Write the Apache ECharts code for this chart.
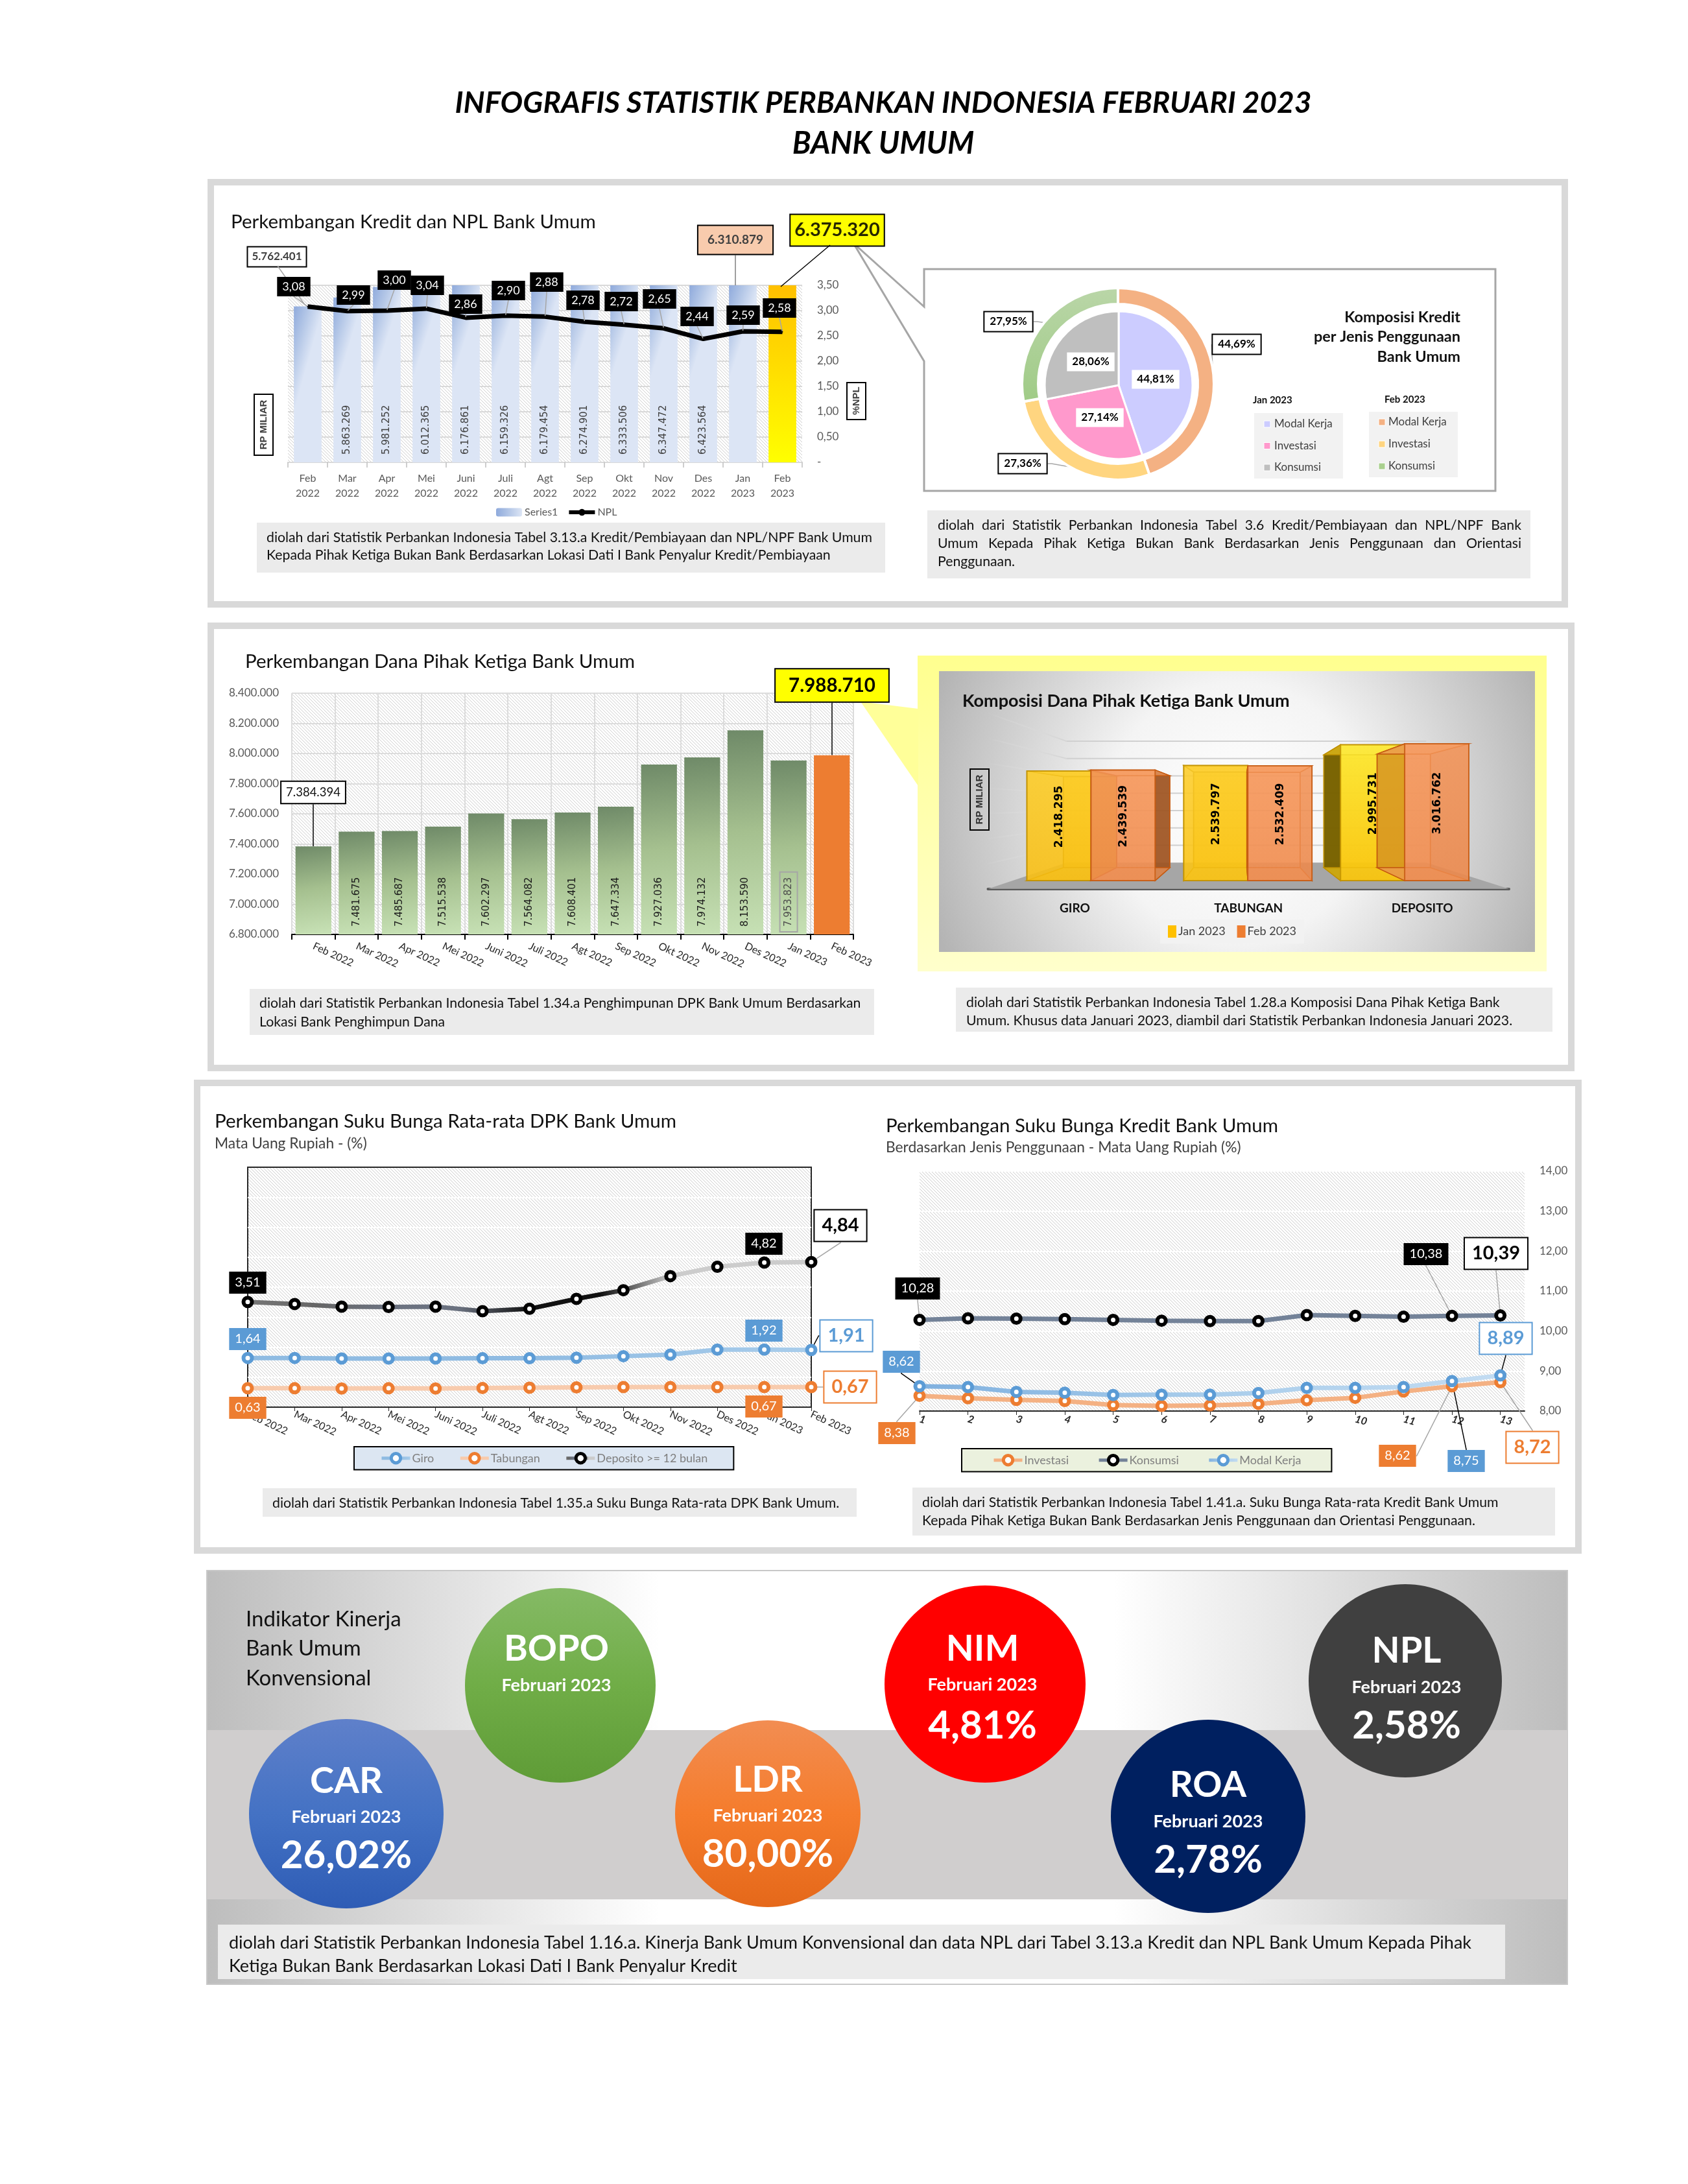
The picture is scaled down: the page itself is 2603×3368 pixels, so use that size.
<!DOCTYPE html>
<html>
<head>
<meta charset="utf-8">
<title>Infografis Statistik Perbankan Indonesia Februari 2023</title>
<script src="https://cdn.jsdelivr.net/npm/echarts@6/dist/echarts.min.js"></script>
<style>
	html, body { margin:0; padding:0; background:#fff; }
	#main { width:2603px; height:3368px; }
</style>
</head>
<body>
<div id="main"></div>
<script>
// data
var bulan = ['Feb 2022','Mar 2022','Apr 2022','Mei 2022','Juni 2022','Juli 2022','Agt 2022','Sep 2022','Okt 2022','Nov 2022','Des 2022','Jan 2023','Feb 2023'];
var kredit = [5762401,5863269,5981252,6012365,6176861,6159326,6179454,6274901,6333506,6347472,6423564,6310879,6375320];
var npl = [3.08,2.99,3.00,3.04,2.86,2.90,2.88,2.78,2.72,2.65,2.44,2.59,2.58];
var jenisKredit = ['Modal Kerja','Investasi','Konsumsi'];
var komposisiJan = [44.81,27.14,28.06];
var komposisiFeb = [44.69,27.36,27.95];
var dpk = [7384394,7481675,7485687,7515538,7602297,7564082,7608401,7647334,7927036,7974132,8153590,7953823,7988710];
var jenisDana = ['GIRO','TABUNGAN','DEPOSITO'];
var danaJan = [2418295,2539797,2995731];
var danaFeb = [2439539,2532409,3016762];
var giro = [1.64,1.64,1.62,1.62,1.62,1.63,1.63,1.65,1.70,1.75,1.92,1.92,1.91];
var tabungan = [0.63,0.63,0.62,0.63,0.62,0.64,0.65,0.66,0.67,0.67,0.67,0.67,0.67];
var deposito = [3.51,3.44,3.35,3.34,3.35,3.20,3.28,3.61,3.90,4.37,4.68,4.82,4.84];
var urutan = [1,2,3,4,5,6,7,8,9,10,11,12,13];
var investasi = [8.38,8.32,8.28,8.25,8.15,8.13,8.14,8.18,8.27,8.33,8.49,8.62,8.72];
var konsumsi = [10.28,10.32,10.31,10.30,10.28,10.26,10.25,10.25,10.40,10.38,10.36,10.38,10.39];
var modalKerja = [8.62,8.60,8.48,8.46,8.40,8.41,8.41,8.45,8.58,8.58,8.60,8.75,8.89];
var kpiNama = ['BOPO','CAR','LDR','NIM','ROA','NPL'];
var kpiNilai = ['','26,02%','80,00%','4,81%','2,78%','2,58%'];

// where the callouts sit on the page
var nplLabelPos = [[453,442],[545,455],[608,432],[659,440],[718,469],[784,448],[843,435],[899,463],[958,465],[1017,461],[1075,488],[1146,486],[1202,475]];
var kreditLabelPos = {0:[427,396],11:[1134,370],12:[1291,355]};
var dpkLabelPos = {0:[483,1222],12:[1283,1057]};
var depositoLabelPos = {0:[382,1978],11:[1178,1918],12:[1296,1890]};
var giroLabelPos = {0:[382,2065],11:[1178,2052],12:[1305,2060]};
var tabunganLabelPos = {0:[382,2171],11:[1178,2169],12:[1311,2139]};
var konsumsiLabelPos = {0:[1415,1987],11:[2199,1934],12:[2307,1933]};
var modalLabelPos = {0:[1390,2100],11:[2261,2253],12:[2322,2064]};
var investasiLabelPos = {0:[1383,2210],11:[2155,2245],12:[2363,2232]};
var pieJanLabelPos = [[1782,585],[1696,644],[1682,558]];
var pieFebLabelPos = [[1907,531],[1577,715],[1555,496]];

var LATO = 'Lato';
var DEJAVU = '"DejaVu Sans"';
var JUDUL = 29.5, CATATAN = 21.25, SUB = 22.8;

function ribuan(v){
	return String(v).replace(/\B(?=(\d{3})+(?!\d))/g, '.');
}
function koma(v){
	return v.toFixed(2).replace('.', ',');
}
function hatch(warna){
	var c = document.createElement('canvas');
	c.width = 5; c.height = 5;
	var g = c.getContext('2d');
	g.fillStyle = '#fff';
	g.fillRect(0, 0, 5, 5);
	g.strokeStyle = warna;
	g.lineWidth = 1;
	g.beginPath();
	g.moveTo(-1, -1); g.lineTo(6, 6);
	g.moveTo(-1, 4); g.lineTo(1, 6);
	g.moveTo(4, -1); g.lineTo(6, 1);
	g.stroke();
	return {image:c, repeat:'repeat'};
}
function grad(x2, y2, stops){
	var list = [];
	for(var i=0;i<stops.length;i++){
		list.push({offset:i/(stops.length-1), color:stops[i]});
	}
	return {type:'linear', x:0, y:0, x2:x2, y2:y2, colorStops:list};
}

// ---- page furniture ----
var els = [];
function box(x, y, w, h, fill, stroke, lw, z){
	els.push({type:'rect', z:z===undefined?-5:z, shape:{x:x, y:y, width:w, height:h},
		style:{fill:fill, stroke:stroke||null, lineWidth:lw||0}, silent:true});
}
function txt(x, y, s, size, opt){
	opt = opt || {};
	els.push({type:'text', z:opt.z===undefined?5:opt.z, x:x, y:y, rotation:opt.rot||0, silent:true,
		style:{text:s, fontFamily:opt.family||LATO, fontSize:size, fontWeight:opt.weight||'normal',
			fontStyle:opt.italic?'italic':'normal', fill:opt.color||'#000',
			align:opt.align||'left', verticalAlign:'middle'}});
}
function poly(points, fill, stroke, lw, z){
	els.push({type:'polygon', z:z===undefined?-4:z, shape:{points:points},
		style:{fill:fill, stroke:stroke||null, lineWidth:lw||0}, silent:true});
}
function garis(x1, y1, x2, y2, warna, lw, z){
	els.push({type:'line', z:z, shape:{x1:x1,y1:y1,x2:x2,y2:y2},
		style:{stroke:warna, lineWidth:lw}, silent:true});
}
// justified line, word by word
function rata(x1, x2, y, s, size){
	var ctx = document.createElement('canvas').getContext('2d');
	ctx.font = size+'px '+LATO;
	var kata = s.split(' ');
	var total = 0;
	for(var i=0;i<kata.length;i++){ total += ctx.measureText(kata[i]).width; }
	var gap = (x2-x1-total)/(kata.length-1);
	var x = x1;
	for(var j=0;j<kata.length;j++){
		txt(x, y, kata[j], size, {color:'#111'});
		x += ctx.measureText(kata[j]).width+gap;
	}
}

txt(1362, 159, 'INFOGRAFIS STATISTIK PERBANKAN INDONESIA FEBRUARI 2023', 46, {weight:'bold', italic:true, align:'center'});
txt(1362, 222, 'BANK UMUM', 47, {weight:'bold', italic:true, align:'center'});

// frames
var FRAME = '#d9d9d9';
box(325, 281, 2088, 651, '#fff', FRAME, 10, -10);
box(325, 965, 2098, 682, '#fff', FRAME, 10, -10);
box(304, 1670, 2130, 721, '#fff', FRAME, 10, -10);

// panel 1
txt(356, 342, 'Perkembangan Kredit dan NPL Bank Umum', JUDUL, {color:'#111'});
box(392, 608, 29, 94, '#fff', '#000', 2, 4);
txt(407, 655, 'RP MILIAR', 15, {family:'"Liberation Sans"', weight:'bold', color:'#404040', align:'center', rot:Math.PI/2});
box(1306, 590, 29, 57, '#fff', '#000', 2, 4);
txt(1321, 618, '%NPL', 15, {family:'"Liberation Sans"', weight:'bold', color:'#404040', align:'center', rot:Math.PI/2});
box(396, 806, 969, 77, '#ebebeb');
txt(411, 829, 'diolah dari Statistik Perbankan Indonesia Tabel 3.13.a Kredit/Pembiayaan dan NPL/NPF Bank Umum', CATATAN, {color:'#111'});
txt(411, 856, 'Kepada Pihak Ketiga Bukan Bank Berdasarkan Lokasi Dati I Bank Penyalur Kredit/Pembiayaan', CATATAN, {color:'#111'});
// leaders of the two callouts whose line does not end at the bar edge
garis(428, 410, 470, 470, '#a6a6a6', 1.5, 4);
garis(1280, 378, 1204, 442, '#000', 1.5, 4);

// callout frame for the pies
poly([[1425,473],[1425,415],[2306,415],[2306,757],[1425,757],[1425,557],[1316,375]], '#fff', '#a6a6a6', 3, -4);
txt(2252, 489, 'Komposisi Kredit', 23.5, {weight:'bold', align:'right', color:'#111'});
txt(2252, 519, 'per Jenis Penggunaan', 23.5, {weight:'bold', align:'right', color:'#111'});
txt(2252, 550, 'Bank Umum', 23.5, {weight:'bold', align:'right', color:'#111'});
txt(1932, 617, 'Jan 2023', 15, {weight:'bold', color:'#111'});
txt(2135, 616, 'Feb 2023', 15, {weight:'bold', color:'#111'});
box(1934, 637, 137, 101, '#f2f2f2', null, 0, -3);
box(2111, 635, 137, 101, '#f2f2f2', null, 0, -3);
var warnaJan = ['#ccccff','#ff99cc','#bfbfbf'];
var warnaFeb = ['#f4b183','#ffd580','#a9d08e'];
for(var i=0;i<3;i++){
	box(1949, 649+33.5*i, 10, 10, warnaJan[i], '#fff', 1, 3);
	txt(1965, 654+33.5*i, jenisKredit[i], 17, {color:'#404040'});
	box(2126, 646+34*i, 10, 10, warnaFeb[i], '#fff', 1, 3);
	txt(2141, 651+34*i, jenisKredit[i], 17, {color:'#404040'});
}
box(1430, 787, 930, 105, '#ebebeb');
rata(1446, 2346, 810, 'diolah dari Statistik Perbankan Indonesia Tabel 3.6 Kredit/Pembiayaan dan NPL/NPF Bank', CATATAN);
rata(1446, 2346, 838, 'Umum Kepada Pihak Ketiga Bukan Bank Berdasarkan Jenis Penggunaan dan Orientasi', CATATAN);
txt(1446, 866, 'Penggunaan.', CATATAN, {color:'#111'});

// panel 2
txt(378, 1020, 'Perkembangan Dana Pihak Ketiga Bank Umum', JUDUL, {color:'#111'});
box(385, 1525, 963, 71, '#ebebeb');
txt(400, 1547, 'diolah dari Statistik Perbankan Indonesia Tabel 1.34.a Penghimpunan DPK Bank Umum Berdasarkan', CATATAN, {color:'#111'});
txt(400, 1576, 'Lokasi Bank Penghimpun Dana', CATATAN, {color:'#111'});
box(1415, 1011, 970, 487, grad(0, 1, ['#ffff8f','#ffffcc']));
poly([[1327,1082],[1416,1093],[1416,1212]], '#ffff99');
box(1448, 1035, 919, 433, {type:'radial', x:0.5, y:0.5, r:1.15, colorStops:[{offset:0,color:'#ffffff'},{offset:0.4,color:'#f4f4f4'},{offset:1,color:'#b4b4b4'}]});
txt(1484, 1081, 'Komposisi Dana Pihak Ketiga Bank Umum', 27, {weight:'bold', color:'#111'});
box(1496, 1186, 29, 94, null, '#000', 2, 4);
txt(1511, 1233, 'RP MILIAR', 15, {family:'"Liberation Sans"', weight:'bold', color:'#333', align:'center', rot:Math.PI/2});
box(1474, 1523, 920, 68, '#ebebeb');
txt(1490, 1546, 'diolah dari Statistik Perbankan Indonesia Tabel 1.28.a Komposisi Dana Pihak Ketiga Bank', CATATAN, {color:'#111'});
txt(1490, 1574, 'Umum. Khusus data Januari 2023, diambil dari Statistik Perbankan Indonesia Januari 2023.', CATATAN, {color:'#111'});

// panel 3
txt(331, 1729, 'Perkembangan Suku Bunga Rata-rata DPK Bank Umum', JUDUL, {color:'#111'});
txt(331, 1764, 'Mata Uang Rupiah - (%)', SUB, {color:'#404040'});
box(405, 2295, 916, 44, '#ebebeb');
txt(420, 2318, 'diolah dari Statistik Perbankan Indonesia Tabel 1.35.a Suku Bunga Rata-rata DPK Bank Umum.', CATATAN, {color:'#111'});
txt(1366, 1736, 'Perkembangan Suku Bunga Kredit Bank Umum', JUDUL, {color:'#111'});
txt(1366, 1770, 'Berdasarkan Jenis Penggunaan - Mata Uang Rupiah (%)', SUB, {color:'#404040'});
box(1407, 2294, 991, 74, '#ebebeb');
txt(1422, 2317, 'diolah dari Statistik Perbankan Indonesia Tabel 1.41.a. Suku Bunga Rata-rata Kredit Bank Umum', CATATAN, {color:'#111'});
txt(1422, 2345, 'Kepada Pihak Ketiga Bukan Bank Berdasarkan Jenis Penggunaan dan Orientasi Penggunaan.', CATATAN, {color:'#111'});

// panel 4
box(319, 2422, 2098, 638, grad(1, 0, ['#bdbdbd','#ffffff','#ffffff','#bdbdbd']), '#c8c8c8', 2, -10);
box(319, 2668, 2098, 261, '#d0cece', null, 0, -9);
txt(379, 2497, 'Indikator Kinerja', 33, {color:'#111'});
txt(379, 2542, 'Bank Umum', 33, {color:'#111'});
txt(379, 2588, 'Konvensional', 33, {color:'#111'});
var kpiPos = [[864,2599,147,150],[534,2797,150,146],[1184,2797,143,144],[1519,2597,155,152],[1863,2801,150,149],[2167,2592,149,149]];
var kpiFill = [grad(0,1,['#85ba65','#70ad47','#5f9c37']),grad(0,1,['#5f80ca','#4472c4','#2e5cb5']),grad(0,1,['#f28d52','#f57c2c','#e5681a']),'#ff0000','#002060','#404040'];
// text offsets inside each bubble: x, name, month, value
var kpiTeks = [[-6,-56,0,0],[0,-50,5,65],[0,-52,3,63],[-4,-54,1,65],[0,-48,8,68],[2,-46,10,70]];
for(var k=0;k<kpiNama.length;k++){
	var p = kpiPos[k], t = kpiTeks[k];
	els.push({type:'ellipse', z:-2, shape:{cx:p[0], cy:p[1], rx:p[2], ry:p[3]}, style:{fill:kpiFill[k]}, silent:true});
	txt(p[0]+t[0], p[1]+t[1], kpiNama[k], 56, {weight:'bold', color:'#fff', align:'center'});
	txt(p[0]+t[0], p[1]+t[2], 'Februari 2023', 27, {weight:'bold', color:'#fff', align:'center'});
	if(kpiNilai[k]){
		txt(p[0]+t[0], p[1]+t[3], kpiNilai[k], 60, {weight:'bold', color:'#fff', align:'center'});
	}
}
box(336, 2968, 1985, 84, '#ebebeb', null, 0, -1);
txt(353, 2996, 'diolah dari Statistik Perbankan Indonesia Tabel 1.16.a. Kinerja Bank Umum Konvensional dan data NPL dari Tabel 3.13.a Kredit dan NPL Bank Umum Kepada Pihak', 27, {color:'#111'});
txt(353, 3032, 'Ketiga Bukan Bank Berdasarkan Lokasi Dati I Bank Penyalur Kredit', 27, {color:'#111'});

// ---- labels ----
function posLayout(table){
	return function(params){
		var p = table[params.dataIndex];
		if(!p){ return {}; }
		return {x:p[0], y:p[1], align:'center', verticalAlign:'middle'};
	};
}
function kotak(warnaBg, warnaTeks, size, bold, tepi, pad){
	return {show:true, backgroundColor:warnaBg, color:warnaTeks, fontSize:size, fontFamily:LATO,
		fontWeight:bold?'bold':'normal', padding:pad, lineHeight:size,
		borderColor:tepi||'transparent', borderWidth:tepi?2:0, rotate:0};
}
function kecil(warna){
	return kotak(warna, '#fff', 20, false, null, [7,9]);
}
function besar(warnaTepi, warnaTeks){
	return kotak('#fff', warnaTeks, 29, true, warnaTepi, [9,11]);
}
function garisLabel(warna){
	return {show:true, length:1, length2:1, lineStyle:{color:warna, width:1.5}};
}

function titikDenganLabel(vals, labelMap, lineMap, xs){
	var out = [];
	for(var i=0;i<vals.length;i++){
		var it = {value: xs ? [xs[i], vals[i]] : vals[i]};
		if(labelMap[i]){
			it.label = labelMap[i];
			if(lineMap && lineMap[i]){ it.labelLine = garisLabel(lineMap[i]); }
		}
		out.push(it);
	}
	return out;
}
function petaLabel(warna){
	return {0:kecil(warna), 11:kecil(warna), 12:besar(warna, warna)};
}
function lineSeries(nama, vals, warnaGaris, warnaTepi, lx, ly, petaL, petaG, posTabel, xs){
	return {
		name:nama, type:'line', xAxisIndex:lx, yAxisIndex:ly,
		data:titikDenganLabel(vals, petaL, petaG, xs),
		symbol:'circle', symbolSize:13, showAllSymbol:true, z:5,
		lineStyle:{color:warnaGaris, width:7},
		itemStyle:{color:'#fff', borderColor:warnaTepi, borderWidth:6},
		label:{show:false, formatter:function(p){ return koma(vals[p.dataIndex]); }},
		labelLine:{show:false, lineStyle:{color:'#a6a6a6', width:1.5}},
		labelLayout:posLayout(posTabel)
	};
}

// ---- kredit bars ----
var kreditData = [];
for(var a=0;a<kredit.length;a++){
	var item = {value:kredit[a]};
	if(a==0){
		item.label = kotak('#fff','#404040',17,true,'#000',[6,6]);
	}else if(a==11){
		item.label = kotak('#f8cbad','#404040',19,true,'#000',[12,14]);
		item.labelLine = garisLabel('#7f7f7f');
	}else if(a==12){
		item.label = kotak('#ffff00','#262600',29,true,'#000',[9,6]);
		item.itemStyle = {color:grad(0,1,['#ffc000','#ffff00'])};
	}
	kreditData.push(item);
}

// ---- dpk bars ----
var dpkData = [];
for(var d=0;d<dpk.length;d++){
	var it2 = {value:dpk[d]};
	if(d==0){
		it2.label = kotak('#fff','#111',18.5,false,'#000',[7,7]);
		it2.labelLine = garisLabel('#000');
	}else if(d==12){
		it2.label = kotak('#ffff00','#000',29.5,true,'#000',[10,20]);
		it2.labelLine = garisLabel('#000');
		it2.itemStyle = {color:'#ed7d31'};
	}else if(d==11){
		it2.label = {color:'#4d4d4d', borderColor:'#a6a6a6', borderWidth:2, padding:[6,8,6,8], distance:4};
	}
	dpkData.push(it2);
}

// ---- 3D bars of dana: plane coords projected to the vanishing point ----
var VX = 1915, VY = 1240, S_FLOOR = 0.69, S_BACK = 0.75, S_FRONT = 0.903, BAR_W = 109.5;
function proj(x, y, s){
	return [VX+s*(x-VX), VY+s*(y-VY)];
}
var janAtas = ['#ffcf2a','#ffd030','#fff03a'];
var janBawah = ['#fabf14','#fbc315','#fbc50c'];
function bar3d(off, warna){
	return function(params, api){
		var cat = api.value(0), val = api.value(1);
		var base = api.coord([cat, 0]);
		var top = api.coord([cat, val]);
		var x1 = base[0]+off, x2 = x1+BAR_W, y0 = base[1], y1 = top[1];
		function face(pts, fill, stroke){
			return {type:'polygon', shape:{points:pts}, style:{fill:fill, stroke:stroke, lineWidth:1.5}};
		}
		var fa = proj(x1,y1,S_FRONT), fb = proj(x2,y1,S_FRONT), fc = proj(x2,y0,S_FRONT), fd = proj(x1,y0,S_FRONT);
		var ba = proj(x1,y1,S_BACK), bb = proj(x2,y1,S_BACK), bc = proj(x2,y0,S_BACK), bd = proj(x1,y0,S_BACK);
		var atas = warna.top ? warna.top[cat] : warna.front;
		var bawah = warna.bottom ? warna.bottom[cat] : warna.front2;
		var cx = (fa[0]+fb[0])/2+1, cy = (fa[1]+fd[1])/2-14;
		// outer faces are dark, faces seen through the bar only tint it
		var sisiKiri = (off<0 && x1>VX) ? warna.side : (x1>VX ? warna.tintOut : warna.tint);
		var sisiKanan = (off>=0 && x2<VX) ? warna.side : warna.tint;
		return {type:'group', children:[
			face([ba,bb,bc,bd], warna.back, warna.line),
			face([fa,ba,bd,fd], sisiKiri, warna.line),
			face([fb,bb,bc,fc], sisiKanan, warna.line),
			face([fd,fc,bc,bd], warna.floor, warna.line),
			face([fa,fb,bb,ba], warna.floor, warna.line),
			{type:'polygon', shape:{points:[fa,fb,fc,fd]}, style:{fill:grad(0,1,[atas,bawah]), stroke:warna.line, lineWidth:2, opacity:0.8}},
			{type:'text', x:cx, y:cy, rotation:Math.PI/2,
				style:{text:ribuan(val), fontFamily:DEJAVU, fontSize:17, fontWeight:'bold', fill:'#000', align:'center', verticalAlign:'middle'}}
		]};
	};
}
function dinding3d(params, api){
	var cs = params.coordSys;
	var v = api.value(0);
	var y = api.coord([0, v])[1];
	var left = cs.x, right = cs.x+cs.width;
	var a = proj(left,y,S_FLOOR), b = proj(right,y,S_FLOOR), c = proj(left,y,1);
	var kids = [
		{type:'line', shape:{x1:a[0],y1:a[1],x2:b[0],y2:b[1]}, style:{stroke:'#d0d0d0', lineWidth:2}},
		{type:'line', shape:{x1:a[0],y1:a[1],x2:c[0],y2:c[1]}, style:{stroke:grad(1,1,['rgba(225,225,225,0)','#d4d4d4']), lineWidth:2}}
	];
	if(params.dataIndex==0){
		var base = cs.y+cs.height;
		var p = proj(left,base,S_FLOOR), q = proj(right,base,S_FLOOR);
		kids.unshift({type:'polygon', shape:{points:[[left,base],[right,base],q,p]}, style:{fill:'#a6a6a6'}});
	}
	return {type:'group', children:kids};
}
function pasang(vals){
	var o = [];
	for(var i=0;i<vals.length;i++){ o.push([i, vals[i]]); }
	return o;
}

// ---- pies ----
function pieData(vals, warna){
	var o = [];
	for(var i=0;i<vals.length;i++){
		o.push({name:jenisKredit[i], value:vals[i], itemStyle:{color:warna[i]}});
	}
	return o;
}
function persen(p){
	return koma(p.value)+'%';
}
var hijauRing = grad(0,1,['#bad6a8','#9fcb86']);

var option = {
	animation:false,
	backgroundColor:'#fff',
	textStyle:{fontFamily:LATO},
	graphic:{elements:els},
	legend:[
		{data:['Series1','NPL'], left:765, top:782, itemWidth:40, itemHeight:13, itemGap:14, padding:0, lineStyle:{width:6}, textStyle:{fontSize:16, color:'#595959', padding:[0,0,0,-1]}},
		{data:['Jan 2023','Feb 2023'], left:1789, top:1418, itemWidth:13, itemHeight:19, itemGap:18, padding:[9,12], backgroundColor:'#f2f2f2', icon:'rect', textStyle:{fontSize:18, color:'#404040', padding:[0,0,0,-2]}},
		{data:['Giro','Tabungan','Deposito >= 12 bulan'], left:546, top:2231, itemWidth:44, itemHeight:18, itemGap:38, padding:[8,40], backgroundColor:'#dce6f2', borderColor:'#000', borderWidth:2, lineStyle:{width:5}, itemStyle:{borderWidth:5}, textStyle:{fontSize:18, color:'#7f7f7f', padding:[0,0,0,-2]}},
		{data:['Investasi','Konsumsi','Modal Kerja'], left:1483, top:2234, itemWidth:44, itemHeight:18, itemGap:44, padding:[8,47], backgroundColor:'#ebf1de', borderColor:'#000', borderWidth:2, lineStyle:{width:5}, itemStyle:{borderWidth:5}, textStyle:{fontSize:18, color:'#7f7f7f', padding:[0,0,0,-2]}}
	],
	grid:[
		{left:444, top:440, width:793, height:273, show:true, borderWidth:0, backgroundColor:hatch('#cfcfcf')},
		{left:450, top:1069, width:866, height:372, show:true, borderWidth:0, backgroundColor:hatch('#cfcfcf')},
		{left:382, top:1800, width:869, height:370, show:true, borderWidth:2, borderColor:'#262626', backgroundColor:hatch('#cccccc')},
		{left:1418, top:1806, width:933, height:370, show:true, borderWidth:0, backgroundColor:hatch('#cccccc')},
		{left:1523.5, top:1099.6, width:803.5, height:271.2}
	],
	xAxis:[
		{gridIndex:0, type:'category', data:bulan,
			axisLine:{lineStyle:{color:'#d9d9d9', width:2}}, axisTick:{show:true, alignWithLabel:false, length:8, lineStyle:{color:'#bfbfbf', width:1.5}},
			axisLabel:{interval:0, margin:13, fontSize:16, lineHeight:23, color:'#595959', formatter:function(v){ return v.replace(' ', '\n'); }}},
		{gridIndex:1, type:'category', data:bulan,
			axisLine:{lineStyle:{color:'#000', width:2}}, axisTick:{show:true, length:8, lineStyle:{color:'#000', width:2}},
			splitLine:{show:true, lineStyle:{color:'#dcdcdc', width:2}},
			axisLabel:{interval:0, margin:17, rotate:-25, fontSize:16, color:'#262626'}},
		{gridIndex:2, type:'category', data:bulan, boundaryGap:false,
			axisLine:{lineStyle:{color:'#262626', width:2}}, axisTick:{show:true, length:6, lineStyle:{color:'#262626'}},
			axisLabel:{interval:0, margin:10, rotate:-25, fontSize:16, color:'#262626'}},
		{gridIndex:3, type:'value', min:1, max:13.5, interval:1,
			axisLine:{onZero:false, lineStyle:{color:'#262626', width:2}}, axisTick:{show:true, length:6, lineStyle:{color:'#262626'}},
			splitLine:{show:false},
			axisLabel:{showMaxLabel:false, margin:12, rotate:-15, fontSize:16, fontStyle:'italic', fontWeight:'bold', color:'#262626'}},
		{gridIndex:4, type:'category', data:jenisDana,
			axisLine:{lineStyle:{color:'#595959', width:4}}, axisTick:{show:false},
			axisLabel:{interval:0, margin:21, fontSize:19, fontWeight:'bold', color:'#111'}}
	],
	yAxis:[
		{gridIndex:0, type:'value', min:4000000, max:6000000, show:false, splitLine:{show:false}},
		{gridIndex:0, type:'value', position:'right', min:0, max:3.5, interval:0.5,
			axisLine:{show:false}, axisTick:{show:false},
			splitLine:{show:true, lineStyle:{color:'#d9d9d9', width:2}},
			axisLabel:{margin:23, fontSize:17, color:'#595959', formatter:function(v){ return v==0?'-':koma(v); }}},
		{gridIndex:1, type:'value', min:6800000, max:8400000, interval:200000,
			axisLine:{show:false}, axisTick:{show:false},
			splitLine:{show:true, lineStyle:{color:'#dcdcdc', width:2}},
			axisLabel:{margin:20, fontSize:17, color:'#595959', formatter:function(v){ return ribuan(v); }}},
		{gridIndex:2, type:'value', min:0, max:8, interval:1,
			axisLine:{show:false}, axisTick:{show:false}, axisLabel:{show:false},
			splitLine:{show:true, showMaxLine:false, lineStyle:{color:'#ffffff', width:2}}},
		{gridIndex:3, type:'value', position:'right', min:8, max:14, interval:1,
			axisLine:{show:false}, axisTick:{show:false},
			splitLine:{show:true, lineStyle:{color:'#ffffff', width:2}},
			axisLabel:{margin:23, fontSize:17, color:'#595959', formatter:function(v){ return koma(v); }}},
		{gridIndex:4, type:'value', min:0, max:3500000, interval:500000, show:false, splitLine:{show:false}}
	],
	series:[
		{name:'Series1', type:'bar', xAxisIndex:0, yAxisIndex:0, barWidth:'70%', data:kreditData, z:3,
			itemStyle:{color:grad(1,0.05,['#8faadc','#b4c7e7','#dce5f5'])},
			label:{show:true, position:'insideBottom', distance:12, rotate:90, align:'left', verticalAlign:'middle',
				fontFamily:DEJAVU, fontSize:15, color:'#404040', formatter:function(p){ return ribuan(p.value); }},
			labelLine:{show:false},
			labelLayout:posLayout(kreditLabelPos)},
		{name:'NPL', type:'line', xAxisIndex:0, yAxisIndex:1, data:npl, symbol:'circle', symbolSize:2, showSymbol:true, showAllSymbol:true, z:5,
			lineStyle:{color:'#000', width:7},
			itemStyle:{color:'#000'},
			label:{show:true, position:'top', backgroundColor:'#000', color:'#fff', fontSize:18, lineHeight:18, padding:[6,8], formatter:function(p){ return koma(p.value); }},
			labelLine:{show:true, lineStyle:{color:'#a6a6a6', width:1.5}},
			labelLayout:posLayout(nplLabelPos)},
		{name:'Dana Pihak Ketiga', type:'bar', xAxisIndex:1, yAxisIndex:2, barWidth:'83%', data:dpkData, z:3,
			itemStyle:{color:grad(0.35,1,['#6f8a68','#a5c08f','#c6e0b4'])},
			label:{show:true, position:'insideBottom', distance:12, rotate:90, align:'left', verticalAlign:'middle',
				fontFamily:DEJAVU, fontSize:15, color:'#1a1a1a', formatter:function(p){ return ribuan(p.value); }},
			labelLine:{show:false},
			labelLayout:posLayout(dpkLabelPos)},
		lineSeries('Giro', giro, grad(1,0,['#8fbbe2','#8fbbe2','#a9cdeb']), '#5b9bd5', 2, 3,
			petaLabel('#5b9bd5'), {12:'#000'}, giroLabelPos),
		lineSeries('Tabungan', tabungan, '#f8cbad', '#ed7d31', 2, 3,
			petaLabel('#ed7d31'), {12:'#a6a6a6'}, tabunganLabelPos),
		lineSeries('Deposito >= 12 bulan', deposito, grad(1,0,['#777','#666','#6b7280','#6b7280','#111','#111','#ccc','#ccc','#ccc']), '#000', 2, 3,
			petaLabel('#000'), {12:'#a6a6a6'}, depositoLabelPos),
		lineSeries('Investasi', investasi, '#f4b183', '#ed7d31', 3, 4,
			petaLabel('#ed7d31'), {0:'#a6a6a6',11:'#a6a6a6',12:'#a6a6a6'}, investasiLabelPos, urutan),
		lineSeries('Konsumsi', konsumsi, '#738298', '#000', 3, 4,
			petaLabel('#000'), {0:'#a6a6a6',11:'#a6a6a6',12:'#a6a6a6'}, konsumsiLabelPos, urutan),
		lineSeries('Modal Kerja', modalKerja, grad(1,0,['#7fb0df','#a9cdeb','#c3dcf2']), '#5b9bd5', 3, 4,
			petaLabel('#5b9bd5'), {0:'#000',11:'#000',12:'#000'}, modalLabelPos, urutan),
		{name:'Dinding', type:'custom', xAxisIndex:4, yAxisIndex:5, coordinateSystem:'cartesian2d', z:1, silent:true,
			data:[500000,1000000,1500000,2000000,2500000,3000000,3500000].map(function(v){ return [v]; }),
			encode:{y:0}, renderItem:dinding3d},
		{name:'Jan 2023', type:'custom', xAxisIndex:4, yAxisIndex:5, z:2, data:pasang(danaJan), encode:{x:0, y:1},
			itemStyle:{color:'#ffc000', borderColor:'#bf9000'},
			renderItem:bar3d(-BAR_W, {top:janAtas, bottom:janBawah, back:'rgba(240,190,0,0.8)', side:'rgba(110,90,0,0.9)', tint:'rgba(235,190,20,0.5)', tintOut:'rgba(235,190,20,0.5)', floor:'rgba(240,195,20,0.7)', line:'#bf9000'})},
		{name:'Feb 2023', type:'custom', xAxisIndex:4, yAxisIndex:5, z:3, data:pasang(danaFeb), encode:{x:0, y:1},
			itemStyle:{color:'#ed7d31', borderColor:'#c55a11'},
			renderItem:bar3d(0, {front:'#f79a5e', front2:'#f08d50', back:'rgba(240,140,80,0.6)', side:'rgba(150,80,30,0.85)', tint:'rgba(200,90,30,0.45)', tintOut:'rgba(195,145,0,0.5)', floor:'rgba(240,150,90,0.7)', line:'#c55a11'})},
		{name:'Komposisi Feb', type:'pie', center:[1724,592], radius:[123,148], startAngle:90, z:3,
			data:pieData(komposisiFeb, ['#f4b183','#ffd580',hijauRing]),
			itemStyle:{borderColor:'#fff', borderWidth:4},
			label:{show:true, position:'outside', formatter:persen, backgroundColor:'#fff', borderColor:'#000', borderWidth:2,
				color:'#000', fontWeight:'bold', fontSize:17, padding:[6,8]},
			labelLine:{show:true, length:6, length2:6, lineStyle:{color:'#a6a6a6', width:1.5}},
			labelLayout:posLayout(pieFebLabelPos)},
		{name:'Komposisi Jan', type:'pie', center:[1725,594], radius:[0,114], startAngle:90, z:3,
			data:pieData(komposisiJan, warnaJan),
			itemStyle:{borderColor:'#fff', borderWidth:3},
			label:{show:true, position:'inside', formatter:persen, backgroundColor:'#fff', color:'#000', fontWeight:'bold', fontSize:17, padding:[6,8]},
			labelLine:{show:false},
			labelLayout:posLayout(pieJanLabelPos)}
	]
};

var myChart = echarts.init(document.getElementById('main'));
myChart.setOption(option);
</script>
</body>
</html>
